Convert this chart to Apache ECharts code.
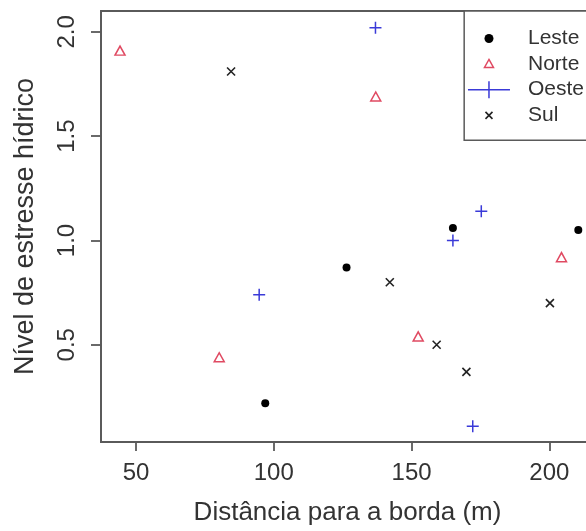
<!DOCTYPE html>
<html lang="pt">
<head>
    <meta charset="UTF-8">
    <title>estresse hidrico</title>
    <script src="https://cdn.jsdelivr.net/npm/echarts@6/dist/echarts.min.js"></script>
    <style>
        html, body {margin: 0; padding: 0; background: #fff;}
        #grafico {width: 586px; height: 531px;}
    </style>
</head>
<body>
<div id="grafico"></div>
<script>
    // dados
    let lesteX = [96.9, 126.4, 165.0, 210.5];
    let lesteY = [0.22, 0.87, 1.06, 1.05];
    let norteX = [44.2, 80.2, 137.0, 152.4, 204.4];
    let norteY = [1.91, 0.44, 1.69, 0.54, 0.92];
    let oesteX = [94.7, 136.9, 165.0, 172.2, 175.3];
    let oesteY = [0.74, 2.02, 1.00, 0.11, 1.14];
    let sulX = [84.5, 142.1, 159.1, 169.9, 200.2];
    let sulY = [1.81, 0.80, 0.50, 0.37, 0.70];
    let grupos = ['Leste', 'Norte', 'Oeste', 'Sul'];
    let xTicks = [50, 100, 150, 200];
    let yTicks = [0.5, 1.0, 1.5, 2.0];

    function pares(xs, ys) {
        return xs.map((x, i) => [x, ys[i]]);
    }

    let cinza = '#5a5a5a';
    let texto = '#333';
    let vermelho = '#e04a62';
    let azul = '#3a3ad8';
    let fonte = '"Liberation Sans", Arial, sans-serif';

    let myChart = echarts.init(document.getElementById('grafico'));
    let option = {
        backgroundColor: '#fff',
        animation: false,
        textStyle: {fontFamily: fonte},
        grid: {
            left: 101, top: 11, right: -8, bottom: 89,
            outerBoundsMode: 'none',
            show: true, borderColor: cinza, borderWidth: 1.8
        },
        xAxis: {
            type: 'value',
            min: 37.3, max: 216.2,
            name: 'Distância para a borda (m)',
            nameLocation: 'middle',
            nameGap: 58,
            nameTextStyle: {fontSize: 26, color: texto, fontFamily: fonte},
            axisLine: {show: true, lineStyle: {color: cinza, width: 1.8}},
            axisTick: {show: true, customValues: xTicks, length: 9, lineStyle: {color: cinza, width: 1.8}},
            axisLabel: {customValues: xTicks, fontSize: 24, color: texto, margin: 19, fontFamily: fonte},
            splitLine: {show: false}
        },
        yAxis: {
            type: 'value',
            min: 0.034, max: 2.1,
            name: 'Nível de estresse hídrico',
            nameLocation: 'middle',
            nameGap: 62,
            nameTextStyle: {fontSize: 27, color: texto, fontFamily: fonte},
            axisLine: {show: true, lineStyle: {color: cinza, width: 1.8}},
            axisTick: {show: true, customValues: yTicks, length: 10, lineStyle: {color: cinza, width: 1.8}},
            axisLabel: {
                customValues: yTicks, rotate: 90, fontSize: 24, color: texto, margin: 22, fontFamily: fonte,
                formatter: v => v.toFixed(1)
            },
            splitLine: {show: false}
        },
        legend: {
            orient: 'vertical',
            right: -18, top: 11,
            padding: [17, 20, 14, 3],
            itemGap: 4.2,
            itemWidth: 55,
            itemHeight: 20,
            borderColor: cinza,
            borderWidth: 1.5,
            backgroundColor: '#fff',
            selectedMode: false,
            textStyle: {fontSize: 21, lineHeight: 20, color: texto, fontFamily: fonte},
            data: [
                {name: 'Leste', icon: 'path://M0,0M55,20M25.5,10A4.5,4.5,0,1,1,16.5,10A4.5,4.5,0,1,1,25.5,10Z',
                    itemStyle: {color: '#000', borderWidth: 0}},
                {name: 'Norte', icon: 'path://M0,0M55,20M21,5.5L25.5,13.5L16.5,13.5Z',
                    itemStyle: {color: 'transparent', borderColor: vermelho, borderWidth: 1.5}},
                {name: 'Oeste', icon: 'path://M0,0M55,20M0,10L42,10M21,1.5L21,18.5',
                    itemStyle: {color: 'transparent', borderColor: azul, borderWidth: 1.5}},
                {name: 'Sul', icon: 'path://M0,0M55,20M17.5,6.5L24.5,13.5M24.5,6.5L17.5,13.5',
                    itemStyle: {color: 'transparent', borderColor: '#222', borderWidth: 1.6}}
            ]
        },
        series: [
            {
                name: grupos[0], type: 'scatter',
                symbol: 'circle', symbolSize: 8,
                itemStyle: {color: '#000', opacity: 1},
                data: pares(lesteX, lesteY)
            },
            {
                name: grupos[1], type: 'scatter',
                symbol: 'path://M5,0L10,9L0,9Z', symbolSize: [10, 9],
                itemStyle: {color: 'transparent', borderColor: vermelho, borderWidth: 1.5, opacity: 1},
                data: pares(norteX, norteY)
            },
            {
                name: grupos[2], type: 'scatter',
                symbol: 'path://M0,5L10,5M5,0L5,10', symbolSize: 12,
                itemStyle: {color: 'transparent', borderColor: azul, borderWidth: 1.5, opacity: 1},
                data: pares(oesteX, oesteY)
            },
            {
                name: grupos[3], type: 'scatter',
                symbol: 'path://M0,0L10,10M10,0L0,10', symbolSize: 8,
                itemStyle: {color: 'transparent', borderColor: '#222', borderWidth: 1.6, opacity: 1},
                data: pares(sulX, sulY)
            }
        ]
    };

    myChart.setOption(option);
</script>
</body>
</html>
